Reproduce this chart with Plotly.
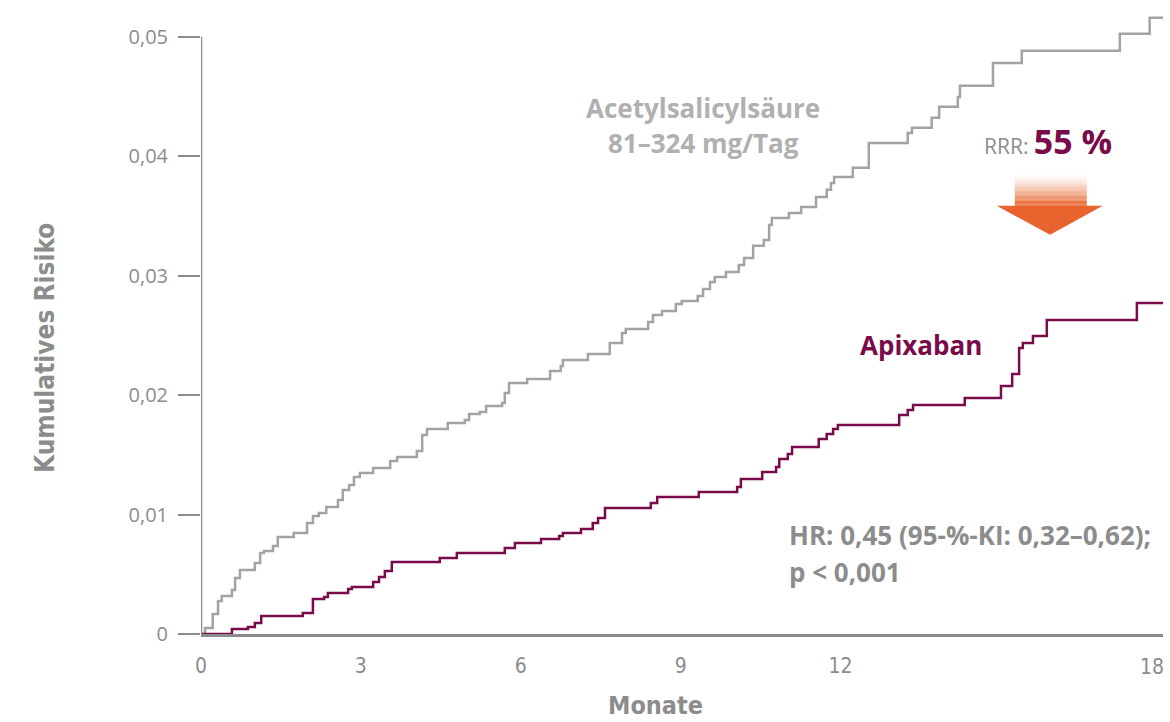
import plotly.graph_objects as go

# Kaplan-Meier style cumulative risk (step curves), months vs. cumulative risk
asa_months = [0.0, 0.075, 0.22, 0.32, 0.39, 0.58, 0.64, 0.73, 1.01, 1.11, 1.18, 1.35, 1.44, 1.74,
              1.99, 2.10, 2.21, 2.35, 2.57, 2.66, 2.78, 2.87, 2.98, 3.23, 3.55, 3.68, 4.05, 4.15,
              4.24, 4.63, 4.95, 5.03, 5.23, 5.35, 5.65, 5.70, 5.78, 6.12, 6.55, 6.75, 6.79, 7.26,
              7.67, 7.90, 7.97, 8.39, 8.48, 8.65, 8.91, 9.02, 9.32, 9.42, 9.55, 9.64, 9.85, 10.09,
              10.19, 10.36, 10.56, 10.66, 10.71, 11.03, 11.26, 11.54, 11.74, 11.82, 11.88, 12.23,
              12.53, 13.26, 13.34, 13.71, 13.85, 14.20, 14.24, 14.86, 15.40, 17.24, 17.80, 18.05]
asa_risk = [0.0, 0.0005, 0.00168, 0.00276, 0.00318, 0.00369, 0.00469, 0.00536, 0.00595, 0.00678,
            0.00695, 0.00737, 0.00812, 0.00846, 0.0093, 0.00988, 0.01013, 0.01064, 0.01122, 0.01206,
            0.01248, 0.01315, 0.01348, 0.0139, 0.01449, 0.01482, 0.01533, 0.01667, 0.01717, 0.01767,
            0.01792, 0.01843, 0.01859, 0.0191, 0.01935, 0.02018, 0.02102, 0.02136, 0.02203, 0.02245,
            0.02295, 0.02345, 0.02437, 0.02521, 0.02554, 0.02613, 0.02672, 0.02705, 0.02764, 0.02789,
            0.02831, 0.02889, 0.02948, 0.0299, 0.03032, 0.0309, 0.03149, 0.0325, 0.033, 0.03425,
            0.03484, 0.03526, 0.03576, 0.0366, 0.03719, 0.03777, 0.03827, 0.03903, 0.04112, 0.04196,
            0.04238, 0.04322, 0.04414, 0.04497, 0.0459, 0.04782, 0.04883, 0.05025, 0.05159, 0.05159]

apix_months = [0.0, 0.58, 0.88, 1.01, 1.13, 1.91, 2.10, 2.31, 2.38, 2.76, 2.83, 3.23, 3.34, 3.45,
               3.58, 4.48, 4.80, 5.70, 5.89, 6.38, 6.72, 6.79, 7.13, 7.35, 7.45, 7.58, 8.44, 8.56,
               9.34, 10.06, 10.13, 10.53, 10.79, 10.85, 11.01, 11.09, 11.59, 11.74, 11.86, 11.95,
               13.10, 13.26, 13.36, 14.33, 15.01, 15.22, 15.35, 15.42, 15.61, 15.87, 17.56, 18.05]
apix_risk = [0.0, 0.00042, 0.00059, 0.00092, 0.00151, 0.00176, 0.00293, 0.0031, 0.00343, 0.00377,
             0.00394, 0.00436, 0.00477, 0.00528, 0.00603, 0.00637, 0.00678, 0.0072, 0.00762, 0.00796,
             0.00821, 0.00846, 0.00879, 0.0093, 0.00972, 0.01055, 0.01097, 0.01147, 0.01189, 0.01231,
             0.01298, 0.01357, 0.01399, 0.01466, 0.01508, 0.01566, 0.01633, 0.01675, 0.01717, 0.0175,
             0.01834, 0.01876, 0.01918, 0.01977, 0.02077, 0.02178, 0.02395, 0.02437, 0.02496, 0.0263,
             0.02772, 0.02772]

x_ticks = [0, 3, 6, 9, 12]
x_last_tick = 18
y_ticks = [0, 0.01, 0.02, 0.03, 0.04, 0.05]
y_tick_labels = ["0", "0,01", "0,02", "0,03", "0,04", "0,05"]

GRAY_LINE = "#a3a3a3"
AXIS_GRAY = "#8c8c8c"
LABEL_GRAY = "#b0b0b0"
PURPLE = "#7a0b4a"
ORANGE = "#e8632d"
FONT = "Open Sans, Noto Sans, sans-serif"
NARROW = "Liberation Sans Narrow, DejaVu Sans Condensed, Roboto, sans-serif"

fig = go.Figure()
fig.add_trace(go.Scatter(x=asa_months, y=asa_risk, mode="lines", line_shape="hv",
                         line=dict(color=GRAY_LINE, width=2.5), hoverinfo="skip"))
fig.add_trace(go.Scatter(x=apix_months, y=apix_risk, mode="lines", line_shape="hv",
                         line=dict(color=PURPLE, width=2.5), hoverinfo="skip"))

shapes = []
# vertical axis line, ending at the top tick
shapes.append(dict(type="line", xref="x", yref="y", x0=0, x1=0, y0=0, y1=0.05,
                   line=dict(color=AXIS_GRAY, width=2.5), layer="above"))

# downward arrow: fading shaft + solid head
shaft_x0, shaft_x1 = 15.27, 16.62
top, bottom = 0.0384, 0.03585
n = 24
for i in range(n):
    y0 = top - (top - bottom) * i / n
    y1 = top - (top - bottom) * (i + 1) / n
    op = min(1.0, 0.04 + (i / (n - 1)) ** 1.4)
    shapes.append(dict(type="rect", xref="x", yref="y", x0=shaft_x0, x1=shaft_x1,
                       y0=y1, y1=y0, fillcolor=ORANGE, opacity=op, line=dict(width=0)))
shapes.append(dict(type="path", xref="x", yref="y",
                   path=f"M 14.93 {bottom} L 16.92 {bottom} L 15.93 0.03342 Z",
                   fillcolor=ORANGE, line=dict(width=0)))

annotations = [
    dict(x=9.42, y=0.04405, text="<b>Acetylsalicylsäure</b>", showarrow=False,
         font=dict(family=FONT, size=26, color=LABEL_GRAY), xanchor="center", yanchor="middle"),
    dict(x=9.42, y=0.04112, text="<b>81–324 mg/Tag</b>", showarrow=False,
         font=dict(family=FONT, size=26, color=LABEL_GRAY), xanchor="center", yanchor="middle"),
    dict(x=13.51, y=0.0242, text="<b>Apixaban</b>", showarrow=False,
         font=dict(family=FONT, size=26, color=PURPLE), xanchor="center", yanchor="middle"),
    dict(x=15.89, y=0.0413,
         text=f"<span style='font-size:21px;color:{AXIS_GRAY}'>RRR: </span><b>55 %</b>",
         showarrow=False, font=dict(family=FONT, size=34, color=PURPLE),
         xanchor="center", yanchor="middle"),
    dict(x=10.99, y=0.00829, text="<b>HR: 0,45 (95-%-KI: 0,32–0,62);</b>", showarrow=False,
         font=dict(family=FONT, size=26, color=AXIS_GRAY), xanchor="left", yanchor="middle"),
    dict(x=10.99, y=0.00519, text="<b>p < 0,001</b>", showarrow=False,
         font=dict(family=FONT, size=26, color=AXIS_GRAY), xanchor="left", yanchor="middle"),
    # last x tick label, kept inside the page
    dict(x=x_last_tick, y=0, yref="y", xref="x", text=str(x_last_tick), showarrow=False,
         font=dict(family=NARROW, size=21, color=AXIS_GRAY), xanchor="right", yanchor="top",
         xshift=6, yshift=-19),
    # axis titles
    dict(x=45, y=348, xref="paper", yref="paper", text="<b>Kumulatives Risiko</b>",
         showarrow=False, textangle=-90,
         font=dict(family=NARROW, size=26, color=AXIS_GRAY), xanchor="center", yanchor="middle"),
    dict(x=655, y=705, xref="paper", yref="paper", text="<b>Monate</b>", showarrow=False,
         font=dict(family=NARROW, size=25, color=AXIS_GRAY), xanchor="center", yanchor="middle"),
]

# axis-title annotations are placed in page pixels -> convert to paper fractions
L, R, T, B = 201, 7, 7, 88
W, H = 1170, 722
for a in annotations:
    if a.get("xref") == "paper":
        a["x"] = (a["x"] - L) / (W - L - R)
        a["y"] = (H - B - a["y"]) / (H - T - B)

fig.update_layout(
    width=W, height=H,
    margin=dict(l=L, r=R, t=T, b=B),
    paper_bgcolor="white", plot_bgcolor="white",
    showlegend=False,
    separators=",.",
    shapes=shapes,
    annotations=annotations,
    xaxis=dict(range=[0, 18.05], tickvals=x_ticks, ticktext=[str(v) for v in x_ticks],
               showgrid=False, zeroline=False, showline=True, linecolor=AXIS_GRAY, linewidth=2.5,
               ticks="", ticklabelstandoff=11,
               tickfont=dict(family=NARROW, size=21, color=AXIS_GRAY)),
    yaxis=dict(range=[0, 0.0525], tickvals=y_ticks, ticktext=y_tick_labels,
               showgrid=False, zeroline=False, showline=False,
               ticks="outside", ticklen=22, tickwidth=1.5, tickcolor=AXIS_GRAY,
               ticklabelstandoff=6,
               tickfont=dict(family=FONT, size=20, color=AXIS_GRAY)),
)

fig.write_html("out.html")
